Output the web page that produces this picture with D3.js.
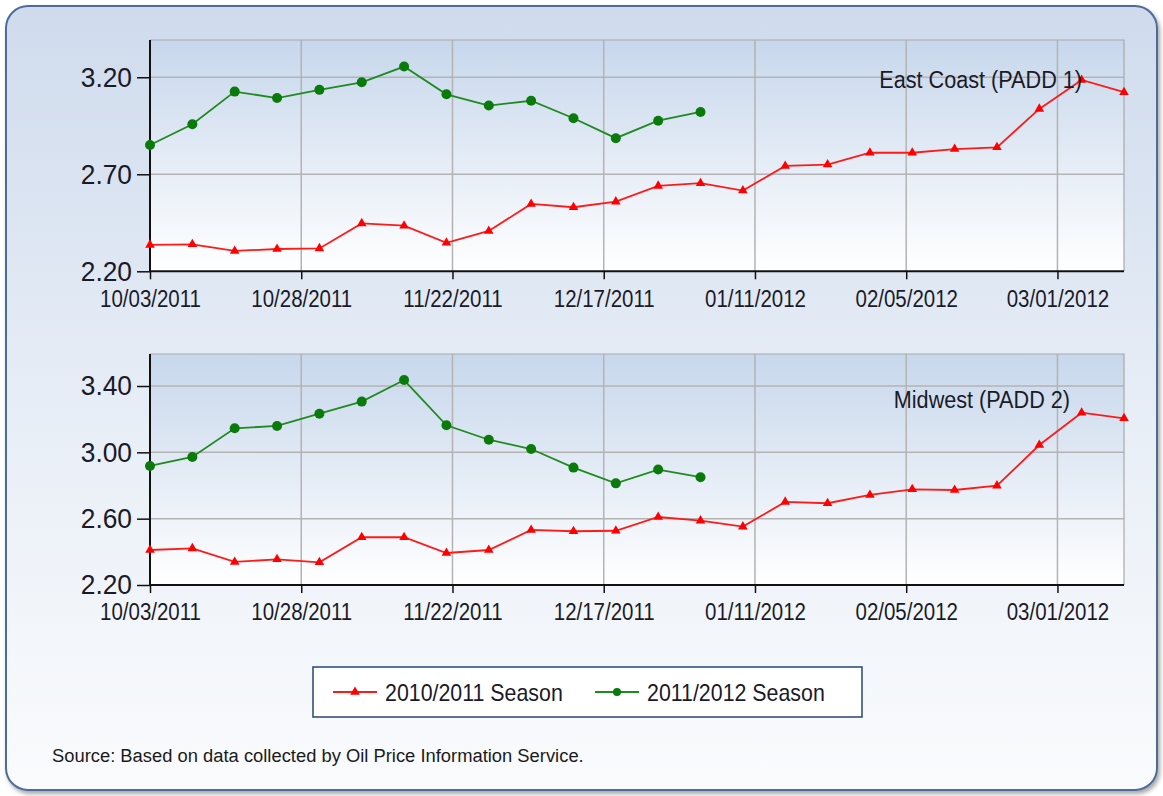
<!DOCTYPE html>
<html>
<head>
<meta charset="utf-8">
<script src="https://cdn.jsdelivr.net/npm/d3@7"></script>
<style>
  html, body { margin: 0; padding: 0; background: #ffffff; }
  svg { display: block; font-family: "Liberation Sans", Arial, sans-serif; }
</style>
</head>
<body>
<svg id="chart" width="1163" height="796"></svg>
<script>
// Weekly price observations (Mondays), $/gallon
const weekStart = "2011-10-03";
const weekCount = 24;

const seasonNames = ["2010/2011 Season", "2011/2012 Season"];
const seasonColors = ["#ff1a1a", "#1f8a1f"];

// East Coast (PADD 1)
const eastPrior = [2.336, 2.339, 2.305, 2.315, 2.318, 2.447, 2.435, 2.347, 2.408, 2.547, 2.530, 2.559,
                   2.640, 2.654, 2.616, 2.743, 2.750, 2.811, 2.811, 2.830, 2.839, 3.037, 3.186, 3.123];
const eastCurrent = [2.851, 2.958, 3.126, 3.093, 3.135, 3.174, 3.255, 3.112, 3.054, 3.079, 2.989, 2.886,
                     2.976, 3.021];

// Midwest (PADD 2)
const midPrior = [2.411, 2.421, 2.339, 2.355, 2.337, 2.488, 2.488, 2.393, 2.411, 2.532, 2.524, 2.527,
                  2.610, 2.588, 2.552, 2.701, 2.693, 2.743, 2.777, 2.773, 2.799, 3.044, 3.239, 3.205];
const midCurrent = [2.918, 2.972, 3.145, 3.159, 3.233, 3.306, 3.436, 3.163, 3.076, 3.020, 2.908, 2.813,
                    2.896, 2.850];

// Axis ticks
const xTickLabels = ["10/03/2011", "10/28/2011", "11/22/2011", "12/17/2011", "01/11/2012", "02/05/2012", "03/01/2012"];
const eastTicks = [2.20, 2.70, 3.20];
const midTicks = [2.20, 2.60, 3.00, 3.40];
const eastDomain = [2.2, 3.392];
const midDomain = [2.2, 3.593];

const panelTitles = ["East Coast (PADD 1)", "Midwest (PADD 2)"];
const sourceNote = "Source: Based on data collected by Oil Price Information Service.";

// ---------------------------------------------------------------
const parseDay = d3.utcParse("%Y-%m-%d");
const parseTick = d3.utcParse("%m/%d/%Y");
const start = parseDay(weekStart);
const weeks = d3.range(weekCount).map(i => d3.utcDay.offset(start, 7 * i));
const tickDates = xTickLabels.map(parseTick);
const fmtTick = d3.utcFormat("%m/%d/%Y");

const svg = d3.select("#chart");
const defs = svg.append("defs");

const frameGrad = defs.append("linearGradient").attr("id", "frameGrad")
  .attr("x1", 0).attr("y1", 0).attr("x2", 0).attr("y2", 1);
frameGrad.append("stop").attr("offset", "0%").attr("stop-color", "#cfdbed");
frameGrad.append("stop").attr("offset", "55%").attr("stop-color", "#e9eff7");
frameGrad.append("stop").attr("offset", "100%").attr("stop-color", "#fafbfd");

const plotGrad = defs.append("linearGradient").attr("id", "plotGrad")
  .attr("x1", 0).attr("y1", 0).attr("x2", 0).attr("y2", 1);
plotGrad.append("stop").attr("offset", "0%").attr("stop-color", "#c7d7ec");
plotGrad.append("stop").attr("offset", "100%").attr("stop-color", "#ffffff");

const shadow = defs.append("filter").attr("id", "frameShadow")
  .attr("x", "-5%").attr("y", "-5%").attr("width", "110%").attr("height", "110%");
shadow.append("feDropShadow").attr("dx", 2).attr("dy", 3).attr("stdDeviation", 2)
  .attr("flood-color", "#000").attr("flood-opacity", 0.35);

// Outer rounded frame
svg.append("rect")
  .attr("x", 6).attr("y", 6).attr("width", 1151).attr("height", 784)
  .attr("rx", 22).attr("ry", 22)
  .attr("fill", "url(#frameGrad)")
  .attr("stroke", "#4e6c99").attr("stroke-width", 2)
  .attr("filter", "url(#frameShadow)");

// Squeeze glyphs horizontally to the narrow face used for chart text
function condense(sel, k) {
  sel.each(function () {
    const len = this.getComputedTextLength();
    this.setAttribute("textLength", len * k);
    this.setAttribute("lengthAdjust", "spacingAndGlyphs");
  });
}

const textColor = "#1a1a28";
const left = 150, right = 1124;
const x = d3.scaleUtc().domain([weeks[0], weeks[weeks.length - 1]]).range([left, right]);

function drawPanel(cfg) {
  const y = d3.scaleLinear().domain(cfg.domain).range([cfg.bottom, cfg.top]);
  const g = svg.append("g");

  g.append("rect")
    .attr("x", left).attr("y", cfg.top)
    .attr("width", right - left).attr("height", cfg.bottom - cfg.top)
    .attr("fill", "url(#plotGrad)");

  // Grid
  g.append("g").selectAll("line.v").data(tickDates.slice(1)).join("line")
    .attr("x1", d => x(d)).attr("x2", d => x(d))
    .attr("y1", cfg.top).attr("y2", cfg.bottom)
    .attr("stroke", "#b3b3b3").attr("stroke-width", 1.5);
  g.append("g").selectAll("line.h").data(cfg.ticks.slice(1)).join("line")
    .attr("x1", left).attr("x2", right)
    .attr("y1", d => y(d)).attr("y2", d => y(d))
    .attr("stroke", "#b3b3b3").attr("stroke-width", 1.5);

  // Top and right plot border
  g.append("path")
    .attr("d", `M${left},${cfg.top}H${right}V${cfg.bottom}`)
    .attr("fill", "none").attr("stroke", "#a9a9a9").attr("stroke-width", 1.2);

  // Y axis
  const yAxis = g.append("g").attr("transform", `translate(${left},0)`)
    .call(d3.axisLeft(y).tickValues(cfg.ticks).tickFormat(d3.format(".2f"))
      .tickSize(13).tickPadding(5).tickSizeOuter(0));
  yAxis.select(".domain").attr("stroke", "#111").attr("stroke-width", 2)
    .attr("d", `M0,${cfg.top}V${cfg.bottom}`);
  yAxis.selectAll(".tick line").attr("stroke", "#111").attr("stroke-width", 1.5);
  yAxis.selectAll("text").attr("font-size", 28).attr("fill", textColor)
    .attr("font-family", "Liberation Sans, Arial, sans-serif")
    .call(condense, 0.94);

  // X axis
  const xAxis = g.append("g").attr("transform", `translate(0,${cfg.bottom})`)
    .call(d3.axisBottom(x).tickValues(tickDates).tickFormat(fmtTick)
      .tickSize(8).tickSizeOuter(0));
  xAxis.select(".domain").attr("stroke", "#111").attr("stroke-width", 2)
    .attr("d", `M${left},0H${right}`);
  xAxis.selectAll(".tick line").attr("stroke", "#111").attr("stroke-width", 1.5);
  xAxis.selectAll("text").attr("font-size", 23).attr("fill", textColor)
    .attr("font-family", "Liberation Sans, Arial, sans-serif")
    .attr("y", 19)
    .call(condense, 0.89);

  const line = d3.line().x((d, i) => x(weeks[i])).y(d => y(d));

  // Prior season: red with triangles
  g.append("path").datum(cfg.prior)
    .attr("d", line).attr("fill", "none")
    .attr("stroke", seasonColors[0]).attr("stroke-width", 1.8);
  g.append("g").selectAll("path").data(cfg.prior).join("path")
    .attr("d", d3.symbol(d3.symbolTriangle, 40))
    .attr("transform", (d, i) => `translate(${x(weeks[i])},${y(d)})`)
    .attr("fill", "#ff0000");

  // Current season: green with dots
  g.append("path").datum(cfg.current)
    .attr("d", line).attr("fill", "none")
    .attr("stroke", seasonColors[1]).attr("stroke-width", 1.8);
  g.append("g").selectAll("circle").data(cfg.current).join("circle")
    .attr("cx", (d, i) => x(weeks[i])).attr("cy", d => y(d))
    .attr("r", 5).attr("fill", "#0a7a0a");

  // Panel title
  g.append("text")
    .attr("x", cfg.titleX).attr("y", cfg.titleY)
    .attr("text-anchor", "end")
    .attr("font-size", 23.5).attr("fill", textColor)
    .text(cfg.title)
    .call(condense, 0.92);
}

drawPanel({ top: 40, bottom: 271.3, domain: eastDomain, ticks: eastTicks,
  prior: eastPrior, current: eastCurrent, title: panelTitles[0], titleX: 1082, titleY: 88 });
drawPanel({ top: 354, bottom: 585, domain: midDomain, ticks: midTicks,
  prior: midPrior, current: midCurrent, title: panelTitles[1], titleX: 1070, titleY: 408 });

// Legend
const legend = svg.append("g");
legend.append("rect")
  .attr("x", 313).attr("y", 667).attr("width", 549).attr("height", 50)
  .attr("fill", "#ffffff").attr("stroke", "#34507e").attr("stroke-width", 1.6);

const legendItems = [
  { name: seasonNames[0], color: seasonColors[0], x0: 333, marker: "tri" },
  { name: seasonNames[1], color: seasonColors[1], x0: 595, marker: "dot" }
];
legendItems.forEach(it => {
  const ly = 692;
  legend.append("line").attr("x1", it.x0).attr("x2", it.x0 + 44)
    .attr("y1", ly).attr("y2", ly)
    .attr("stroke", it.color).attr("stroke-width", 2.2);
  if (it.marker === "tri") {
    legend.append("path").attr("d", d3.symbol(d3.symbolTriangle, 40))
      .attr("transform", `translate(${it.x0 + 22},${ly})`).attr("fill", "#ff0000");
  } else {
    legend.append("circle").attr("cx", it.x0 + 22).attr("cy", ly).attr("r", 4)
      .attr("fill", "#0a7a0a");
  }
  legend.append("text").attr("x", it.x0 + 52).attr("y", ly + 8.5)
    .attr("font-size", 24).attr("fill", textColor)
    .text(it.name)
    .call(condense, 0.89);
});

// Source note
svg.append("text")
  .attr("x", 52).attr("y", 762)
  .attr("font-size", 18).attr("fill", "#1a1a1a")
  .text(sourceNote)
  .call(condense, 1.02);
</script>
</body>
</html>
